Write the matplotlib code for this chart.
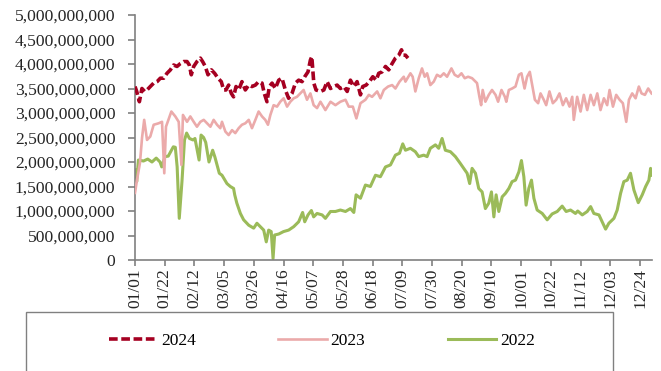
import matplotlib
matplotlib.use("Agg")
import matplotlib.pyplot as plt
from matplotlib.patches import Rectangle
from matplotlib.ticker import FuncFormatter

plt.rcParams['font.family'] = ['Liberation Serif', 'DejaVu Serif']

# day-of-year offsets and daily values (in billions)
days_2024 = [0, 1.2, 3.1, 4.9, 6.8, 8.5, 10.8, 13.2, 15.6, 17.9, 20.3, 22.6, 25, 27.3, 29.7,
             32.1, 34.4, 36.8, 38.4, 39.8, 41.5, 43.8, 46.2, 47.8, 49.7, 51.6, 54, 56.3, 58.7,
             61, 62.7, 64.3, 66.2, 68.1, 69.7, 71.4, 73.3, 75.6, 78, 80.4, 82.7, 85.1, 87.4,
             89.8, 91.4, 93.3, 95, 96.9, 99.2, 101.6, 103.9, 106.3, 108.6, 111, 113.4, 115.7,
             118.1, 120, 122.3, 124, 125, 126.4, 128, 131.1, 133.5, 135.8, 138.2, 140.5, 142.9,
             145.2, 147.6, 150, 152.3, 154.7, 157, 159.4, 161, 163.4, 165.7, 168.1, 170.5,
             172.3, 174.7, 177.1, 179.4, 181.8, 184.1, 186.5, 188.4, 189.8, 191.2, 193]
vol_2024 = [3.54, 3.44, 3.23, 3.50, 3.44, 3.47, 3.54, 3.61, 3.64, 3.71, 3.71, 3.81, 3.88, 3.98, 3.95,
            4.01, 4.05, 4.05, 3.98, 3.78, 3.95, 4.05, 4.12, 4.05, 3.95, 3.78, 3.88, 3.81, 3.71,
            3.64, 3.47, 3.47, 3.57, 3.40, 3.33, 3.54, 3.47, 3.64, 3.47, 3.57, 3.54, 3.57, 3.64,
            3.61, 3.40, 3.23, 3.54, 3.61, 3.50, 3.67, 3.71, 3.47, 3.30, 3.40, 3.61, 3.67,
            3.64, 3.74, 3.84, 4.08, 4.15, 3.61, 3.47, 3.44, 3.47, 3.64, 3.50, 3.54, 3.57,
            3.50, 3.54, 3.44, 3.67, 3.54, 3.64, 3.37, 3.54, 3.57, 3.64, 3.74, 3.67,
            3.81, 3.84, 3.95, 3.88, 4.01, 4.12, 4.18, 4.29, 4.18, 4.18, 4.12]

days_2023 = [0, 1.5, 3.5, 5, 6.5, 8.5, 10.8, 13.2, 16.7, 19.1, 20.7, 21.9, 23.5, 25.7, 28.5, 30.9,
             32.8, 33.9, 36.8, 39.1, 41.5, 43.8, 46.2, 48.6, 50.9, 53.3, 55.6, 58, 60.3, 61.5,
             63.9, 66.2, 68.6, 70.9, 73.3, 75.6, 78, 80.4, 82.7, 85.1, 87.4, 89.8, 92.1, 94,
             95.7, 98, 100.4, 102.7, 105.1, 107.5, 109.8, 112.2, 114.5, 116.9, 119.2, 121.6,
             124, 126.3, 128.7, 131.1, 134.6, 138.2, 141.7, 145.2, 148.8, 151.1, 154, 156.5,
             159.4, 162.9, 165.3, 167.6, 171.2, 173.5, 175.9, 178.9, 181.8, 184.1, 187, 190,
             191.2, 194.7, 196.3, 198.2, 200.6, 202.9, 204.8, 206.5, 208.8, 211.2, 213.5,
             215.9, 218.3, 220.6, 223.7, 226, 228.4, 230.8, 233.1, 235.5, 238.3, 241.8, 243.5,
             244.7, 245.8, 247.7, 250.1, 252.4, 254.9, 256.7, 259.1, 261.5, 262.5, 264.3,
             266.6, 269, 271.4, 273.2, 275.4, 277.2, 279.1, 280.8, 282.7, 285, 286.7, 289,
             290.7, 293, 295.4, 297.8, 300.1, 302.5, 304.8, 307.2, 309.1, 310.2, 312.6, 315,
             317.3, 319.7, 322.1, 324.4, 326.8, 329.1, 331.5, 333.8, 335.5, 337.9, 340.2,
             342.6, 344.9, 347.3, 349.2, 351.5, 353.9, 356.2, 358.1, 360.5, 362.8, 365.2]
vol_2023 = [1.37, 1.65, 1.98, 2.50, 2.86, 2.45, 2.52, 2.76, 2.79, 2.82, 1.77, 2.72, 2.85, 3.03, 2.93, 2.82,
            1.94, 2.96, 2.82, 2.93, 2.82, 2.72, 2.82, 2.86, 2.79, 2.72, 2.86, 2.76, 2.69, 2.82,
            2.62, 2.55, 2.65, 2.59, 2.69, 2.76, 2.79, 2.86, 2.69, 2.86, 3.03, 2.93, 2.86, 2.76,
            2.96, 3.16, 3.13, 3.23, 3.30, 3.13, 3.23, 3.30, 3.33, 3.40, 3.47, 3.27,
            3.40, 3.16, 3.10, 3.23, 3.06, 3.23, 3.16, 3.23, 3.27, 3.13, 3.13, 2.89,
            3.20, 3.27, 3.37, 3.33, 3.44, 3.30, 3.47, 3.54, 3.57, 3.50, 3.64, 3.74,
            3.64, 3.81, 3.74, 3.44, 3.71, 3.91, 3.74, 3.81, 3.57, 3.64, 3.78,
            3.74, 3.81, 3.74, 3.91, 3.78, 3.74, 3.81, 3.71, 3.74, 3.71, 3.61, 3.33,
            3.16, 3.47, 3.23, 3.37, 3.47, 3.37, 3.23, 3.47, 3.33, 3.23, 3.47,
            3.50, 3.54, 3.78, 3.81, 3.50, 3.74, 3.84, 3.57, 3.27, 3.20, 3.40, 3.27,
            3.16, 3.44, 3.20, 3.27, 3.40, 3.16, 3.30, 3.13, 3.33, 2.86, 3.33, 3.03,
            3.37, 3.06, 3.37, 3.16, 3.40, 3.06, 3.30, 3.16, 3.47, 3.13, 3.37,
            3.27, 3.20, 2.82, 3.27, 3.40, 3.30, 3.54, 3.40, 3.37, 3.50, 3.40]

days_2022 = [0, 1.2, 2.4, 6, 9, 12, 15, 17.7, 18.9, 21.2, 23.5, 27.1, 28.5, 29.8, 31.3, 33.2, 35,
             36.5, 38.5, 41, 42.4, 45.3, 46.7, 48.5, 50, 52.3, 54.9, 56.5, 59.6, 61.5, 65, 67.4,
             69.7, 70.5, 72, 74.5, 76.8, 80.4, 83.9, 86.2, 88.6, 91, 92.8, 94.5, 96.3, 97.6,
             98.7, 101.6, 105, 108.6, 112.2, 115.7, 118.5, 120, 122.3, 124.7, 126.3, 128.7,
             132.3, 134.6, 138.2, 141.7, 145.2, 148.8, 152.3, 154.7, 156.3, 159.4, 162.9,
             166.4, 170, 173.5, 177.1, 180.6, 184.1, 187, 189.3, 191.2, 194.7, 198.2, 200.6,
             204.1, 206.5, 208.8, 212.4, 214.7, 217.1, 219.4, 223, 226.5, 230, 232.4, 234.8,
             236.6, 238.3, 240.7, 243, 245.4, 247.7, 250.1, 252, 253.7, 255.3, 257.2, 259.6,
             261.9, 264.3, 266.6, 269, 271.4, 273.2, 274.9, 276.5, 278.4, 280.3, 282, 284.3,
             287.9, 291.4, 294.9, 298.5, 302, 304.8, 307.9, 311.4, 313, 316.2, 319.7, 322.1,
             324.4, 328, 330.3, 332.7, 335, 338.6, 340.9, 343.3, 345.6, 348, 350.3, 352.7,
             355.8, 358.6, 361, 363.3, 364.5, 365.5]
vol_2022 = [1.84, 1.60, 2.04, 2.02, 2.06, 2.00, 2.08, 2.00, 1.90, 2.11, 2.12, 2.31, 2.30, 1.90, 0.85, 1.60, 2.45,
            2.59, 2.48, 2.45, 2.48, 2.04, 2.55, 2.50, 2.40, 2.00, 2.24, 2.10, 1.77, 1.73, 1.56, 1.50,
            1.46, 1.33, 1.16, 0.95, 0.82, 0.71, 0.65, 0.75, 0.68, 0.61, 0.37, 0.61, 0.58, 0.03,
            0.51, 0.53, 0.58, 0.61, 0.68, 0.78, 0.97, 0.78, 0.92, 1.01, 0.88, 0.95,
            0.92, 0.85, 0.99, 0.99, 1.02, 0.99, 1.05, 0.97, 1.33, 1.26, 1.53,
            1.50, 1.73, 1.70, 1.90, 1.94, 2.14, 2.18, 2.37, 2.24, 2.28, 2.21, 2.11,
            2.14, 2.11, 2.28, 2.35, 2.28, 2.48, 2.24, 2.21, 2.11, 1.97, 1.87, 1.77,
            1.56, 1.87, 1.77, 1.46, 1.39, 1.05, 1.16, 1.39, 0.88, 1.33, 0.99, 1.29,
            1.36, 1.46, 1.60, 1.63, 1.80, 2.03, 1.70, 1.12, 1.46, 1.63, 1.26, 1.02,
            0.95, 0.82, 0.94, 0.99, 1.10, 0.99, 1.02, 0.95, 1.00, 0.92, 0.99, 1.09,
            0.95, 0.92, 0.78, 0.63, 0.75, 0.85, 1.02, 1.36, 1.60, 1.63, 1.77, 1.43,
            1.17, 1.33, 1.50, 1.63, 1.87, 1.73]

tick_days = [0, 21, 42, 63, 84, 105, 126, 147, 168, 189, 210, 231, 252, 273, 294, 315, 336, 357]
tick_labels = ['01/01', '01/22', '02/12', '03/05', '03/26', '04/16', '05/07', '05/28', '06/18',
               '07/09', '07/30', '08/20', '09/10', '10/01', '10/22', '11/12', '12/03', '12/24']

fig = plt.figure(figsize=(6.61, 3.71), dpi=100)
ax = fig.add_axes([135 / 661, 1 - 260 / 371, 517 / 661, 245 / 371])

ax.plot(days_2022, vol_2022, color='#9BBB59', lw=2.2, label='2022', zorder=2)
ax.plot(days_2023, vol_2023, color='#EBAAAA', lw=1.9, label='2023', zorder=3)
ax.plot(days_2024, vol_2024, color='#A50021', lw=2.6, ls=(0, (2.4, 1.0)),
        dash_capstyle='butt', label='2024', zorder=4)

ax.set_xlim(0, 365.5)
ax.set_ylim(0, 5.0)
ax.set_yticks([i * 0.5 for i in range(11)])
ax.yaxis.set_major_formatter(FuncFormatter(lambda v, p: f"{v * 1e9:,.0f}"))
ax.set_xticks(tick_days)
ax.set_xticklabels(tick_labels, rotation=90)

for side in ['top', 'right']:
    ax.spines[side].set_visible(False)
for side in ['left', 'bottom']:
    ax.spines[side].set_color('#808080')
    ax.spines[side].set_linewidth(1.2)
ax.tick_params(axis='y', length=5, width=1.2, color='#808080', pad=9,
               labelsize=12.6, labelcolor='#262626')
ax.tick_params(axis='x', length=4, width=1.2, color='#808080', pad=2,
               labelsize=12.5, labelcolor='#262626')

# legend frame runs off the bottom edge
fig.patches.append(Rectangle((26 / 661, -0.1), 587 / 661, 0.1 + (1 - 312 / 371),
                             transform=fig.transFigure, fill=False,
                             edgecolor='#808080', lw=1.0, clip_on=False))

handles, labels = ax.get_legend_handles_labels()
order = [2, 1, 0]
fig.legend([handles[i] for i in order], [labels[i] for i in order],
           loc='center left', bbox_to_anchor=(109 / 661, 1 - 341 / 371),
           ncol=3, frameon=False, fontsize=12.5, handlelength=2.8,
           handletextpad=0.2, columnspacing=4.75, borderpad=0, borderaxespad=0)

fig.savefig('out.png', dpi=100)
